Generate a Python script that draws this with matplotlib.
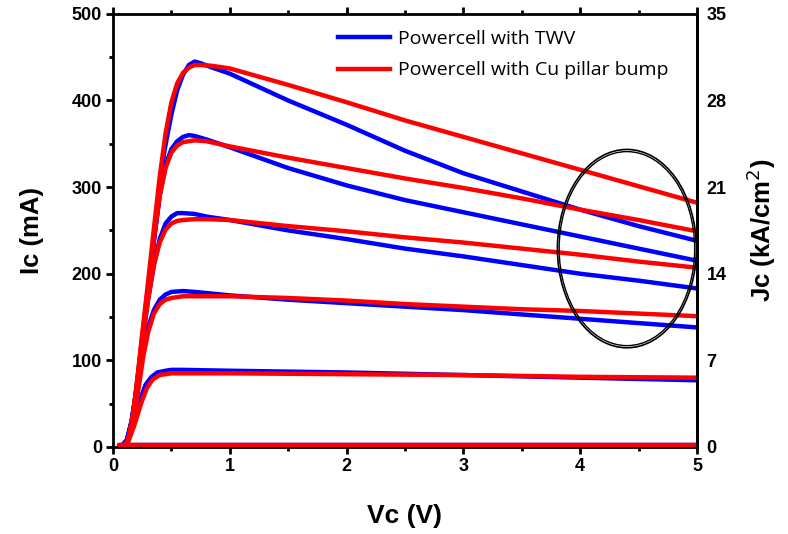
import numpy as np
import matplotlib
matplotlib.use("Agg")
import matplotlib.pyplot as plt
from matplotlib.patches import Ellipse
from matplotlib.lines import Line2D

# Vc (V) / Ic (mA), one list per base-current step
twv_v = [
    [0.07, 0.12, 0.16, 0.2, 0.24, 0.3, 0.34, 0.4, 0.44, 0.5, 0.55, 0.6, 0.65, 0.7, 0.75, 0.85, 1.0, 1.5, 2.0, 2.5, 3.0, 3.5, 4.0, 4.5, 5.0],
    [0.07, 0.12, 0.16, 0.2, 0.24, 0.3, 0.34, 0.4, 0.45, 0.5, 0.55, 0.6, 0.65, 0.7, 0.8, 1.0, 1.5, 2.0, 2.5, 3.0, 3.5, 4.0, 4.5, 5.0],
    [0.07, 0.12, 0.16, 0.2, 0.24, 0.3, 0.35, 0.4, 0.45, 0.5, 0.55, 0.6, 0.7, 0.8, 1.0, 1.5, 2.0, 2.5, 3.0, 3.5, 4.0, 4.5, 5.0],
    [0.07, 0.12, 0.16, 0.2, 0.25, 0.3, 0.35, 0.4, 0.45, 0.5, 0.6, 0.7, 1.0, 1.5, 2.0, 2.5, 3.0, 3.5, 4.0, 4.5, 5.0],
    [0.07, 0.12, 0.17, 0.23, 0.28, 0.33, 0.38, 0.45, 0.5, 0.6, 1.0, 2.0, 3.0, 4.0, 5.0],
    [0.05, 5.0],
]
twv_i = [
    [0, 8, 30, 65, 112, 180, 227, 295, 342, 384, 412, 430, 441, 445, 443, 438, 431, 400, 372, 342, 316, 295, 274, 255, 238],
    [0, 8, 30, 65, 112, 180, 227, 290, 325, 344, 353, 358, 360, 359, 355, 346, 322, 302, 285, 271, 257, 243, 229, 215],
    [0, 8, 30, 65, 110, 170, 210, 240, 258, 266, 270, 270, 269, 266, 262, 250, 240, 229, 220, 210, 200, 192, 183],
    [0, 8, 28, 60, 105, 138, 158, 170, 176, 179, 180, 179, 175, 170, 166, 162, 158, 153, 148, 143, 138],
    [0, 7, 25, 54, 72, 81, 86, 88, 89, 89, 88, 86, 83, 80, 77],
    [2, 2],
]
cu_v = [
    [0.09, 0.13, 0.17, 0.21, 0.25, 0.3, 0.35, 0.4, 0.45, 0.5, 0.55, 0.6, 0.65, 0.7, 0.75, 0.85, 1.0, 1.5, 2.0, 2.5, 3.0, 3.5, 4.0, 4.5, 5.0],
    [0.09, 0.13, 0.17, 0.21, 0.25, 0.3, 0.35, 0.4, 0.45, 0.5, 0.55, 0.6, 0.7, 0.8, 1.0, 1.5, 2.0, 2.5, 3.0, 3.5, 4.0, 4.5, 5.0],
    [0.09, 0.13, 0.17, 0.21, 0.25, 0.3, 0.35, 0.4, 0.45, 0.5, 0.55, 0.6, 0.7, 0.8, 1.0, 1.5, 2.0, 2.5, 3.0, 3.5, 4.0, 4.5, 5.0],
    [0.09, 0.13, 0.17, 0.21, 0.26, 0.3, 0.35, 0.4, 0.45, 0.5, 0.6, 0.7, 1.0, 1.5, 2.0, 2.5, 3.0, 3.5, 4.0, 4.5, 5.0],
    [0.09, 0.13, 0.18, 0.24, 0.29, 0.34, 0.4, 0.45, 0.5, 0.6, 1.0, 2.0, 3.0, 4.0, 5.0],
    [0.05, 5.0],
]
cu_i = [
    [0, 8, 35, 80, 130, 190, 252, 312, 362, 398, 420, 432, 438, 441, 441, 440, 437, 418, 398, 377, 358, 339, 320, 301, 282],
    [0, 8, 35, 80, 128, 185, 240, 290, 322, 340, 348, 352, 354, 353, 347, 334, 322, 310, 299, 287, 274, 262, 249],
    [0, 8, 34, 76, 120, 170, 210, 236, 251, 258, 261, 262, 263, 263, 262, 255, 249, 242, 236, 229, 222, 214, 207],
    [0, 7, 28, 60, 105, 132, 154, 165, 170, 172, 174, 174, 174, 172, 169, 165, 162, 159, 157, 154, 151],
    [0, 6, 24, 50, 68, 78, 83, 84, 85, 85, 85, 84, 83, 81, 80],
    [2, 2],
]
legend_labels = ["Powercell with TWV", "Powercell with Cu pillar bump"]
ic_ticks = [0, 100, 200, 300, 400, 500]
jc_ticks = [0, 7, 14, 21, 28, 35]
vc_ticks = [0, 1, 2, 3, 4, 5]

# ellipse marking the region of interest (data units)
ring_center = (4.4, 229)
ring_w, ring_h = 1.19, 229

tick_font = {"family": "Liberation Sans", "weight": "bold", "size": 13}

fig = plt.figure(figsize=(7.88, 5.34), dpi=100)
ax = fig.add_axes([0.1434, 0.163, 0.7411, 0.811])

for v, i in zip(twv_v, twv_i):
    ax.plot(v, i, color="#0000ff", lw=3.2, solid_capstyle="round", zorder=2)
for v, i in zip(cu_v, cu_i):
    ax.plot(v, i, color="#ff0000", lw=3.2, solid_capstyle="round", zorder=3)

ax.add_patch(Ellipse(ring_center, ring_w, ring_h, fill=False, ec="black", lw=1.2, zorder=4))
ax.add_patch(Ellipse(ring_center, ring_w - 0.03, ring_h - 5, fill=False, ec="black", lw=1.0, zorder=4))

ax.set_xlim(0, 5)
ax.set_ylim(0, 500)
ax.set_xticks(vc_ticks)
ax.set_yticks(ic_ticks)
ax.set_xticks(np.arange(0.5, 5, 1.0), minor=True)
ax.set_yticks(np.arange(50, 500, 100), minor=True)
ax.tick_params(which="major", direction="out", length=5, width=2, pad=3)
ax.tick_params(which="minor", direction="out", length=3, width=2)
ax.tick_params(axis="x", which="both", top=True)
for lab in ax.get_xticklabels() + ax.get_yticklabels():
    lab.set_fontproperties(tick_font)
for sp in ax.spines.values():
    sp.set_linewidth(2)

ax2 = ax.twinx()
ax2.set_ylim(0, 35)
ax2.set_yticks(jc_ticks)
ax2.tick_params(length=0, pad=7)
for lab in ax2.get_yticklabels():
    lab.set_fontproperties(tick_font)
ax2.spines["right"].set_linewidth(2)

ax.set_ylabel("Ic (mA)", fontsize=18.5, fontweight="bold", family="Liberation Sans", labelpad=20)
ax.set_xlabel("Vc (V)", fontsize=19, fontweight="bold",
              family=["Liberation Sans Narrow", "Liberation Sans"], labelpad=21)
ax2.set_ylabel("Jc (kA/cm$^2$)", fontsize=18.5, fontweight="bold", family="Liberation Sans", labelpad=13)

handles = [Line2D([], [], color="#0000ff", lw=3.2), Line2D([], [], color="#ff0000", lw=3.2)]
fig.legend(handles, legend_labels, loc="upper left", bbox_to_anchor=(0.416, 0.962),
           frameon=False, handlelength=2.7, handletextpad=0.41, labelspacing=0.69,
           borderpad=0, prop={"family": "Open Sans", "size": 14})

fig.savefig("out.png", dpi=100)
